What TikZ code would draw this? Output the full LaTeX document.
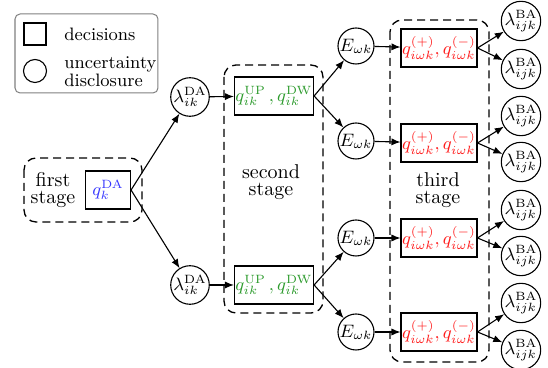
\documentclass[tikz,border=0pt]{standalone}
\usetikzlibrary{arrows.meta}
\definecolor{qblue}{RGB}{55,55,255}
\definecolor{qgreen}{RGB}{45,155,45}
\definecolor{qred}{RGB}{255,25,25}
\begin{document}
\begin{tikzpicture}[x=0.5pt,y=-0.5pt,
  every node/.style={inner sep=0pt},
  dec/.style={draw,line width=0.55pt,rectangle,minimum height=19pt,inner sep=0.5pt,font=\small},
  unc/.style={draw,line width=0.55pt,circle,minimum size=18pt,inner sep=0pt,font=\small},
  uncb/.style={draw,line width=0.55pt,circle,minimum size=19.5pt,inner sep=0pt,font=\small},
  stagebox/.style={draw,line width=0.65pt,dash pattern=on 4pt off 2.5pt,rounded corners=6pt},
  stagetxt/.style={align=center,font=\fontsize{10}{8.6}\selectfont},
  arr/.style={-{Latex[length=4.5pt,width=3.6pt]},line width=0.55pt}]
\useasboundingbox (0,0) rectangle (548,368);
% legend
\draw[gray,line width=0.5pt,rounded corners=2.5pt] (15,14) rectangle (158,93);
\node[draw,line width=0.55pt,minimum size=11pt] (legsq) at (35,34) {};
\node[draw,line width=0.55pt,circle,minimum size=11.5pt] (legci) at (35,71) {};
\node[anchor=west,font=\small] (legdec) at (64,34) {decisions};
\node[anchor=west,align=left,font=\fontsize{9}{7.2}\selectfont] (legunc) at (64,72) {uncertainty\\disclosure};
% stage boxes
\draw[stagebox] (24,158) rectangle (142,222);
\draw[stagebox] (224,65) rectangle (323,313);
\draw[stagebox] (390,20) rectangle (489,362);
\node[stagetxt] (t1) at (53,190) {first\\stage};
\node[stagetxt] (t2) at (271,182) {second\\stage};
\node[stagetxt] (t3) at (438,190) {third\\stage};
% first stage
\node[dec,minimum width=22.5pt,text=qblue] (qda) at (108,190) {$q^{\mathrm{DA}}_{k}$};
% day-ahead prices
\node[unc] (l1) at (190,97) {$\lambda^{\mathrm{DA}}_{ik}$};
\node[unc] (l2) at (190,285) {$\lambda^{\mathrm{DA}}_{ik}$};
% second stage
\node[dec,minimum width=39pt,text=qgreen] (s1) at (274,96) {$q^{\mathrm{UP}}_{ik}\,,q^{\mathrm{DW}}_{ik}$};
\node[dec,minimum width=39pt,text=qgreen] (s2) at (274,285) {$q^{\mathrm{UP}}_{ik}\,,q^{\mathrm{DW}}_{ik}$};
% scenarios
\node[unc] (e1) at (356,46) {$E_{\omega k}$};
\node[unc] (e2) at (356,141) {$E_{\omega k}$};
\node[unc] (e3) at (356,238) {$E_{\omega k}$};
\node[unc] (e4) at (356,332) {$E_{\omega k}$};
% third stage
\node[dec,minimum width=36.5pt,text=qred] (r1) at (439,48) {$q^{(+)}_{i\omega k},q^{(-)}_{i\omega k}$};
\node[dec,minimum width=36.5pt,text=qred] (r2) at (439,143) {$q^{(+)}_{i\omega k},q^{(-)}_{i\omega k}$};
\node[dec,minimum width=36.5pt,text=qred] (r3) at (439,238) {$q^{(+)}_{i\omega k},q^{(-)}_{i\omega k}$};
\node[dec,minimum width=36.5pt,text=qred] (r4) at (439,332) {$q^{(+)}_{i\omega k},q^{(-)}_{i\omega k}$};
% balancing prices
\node[uncb] (b1) at (521,21) {$\lambda^{\mathrm{BA}}_{ijk}$};
\node[uncb] (b2) at (521,69) {$\lambda^{\mathrm{BA}}_{ijk}$};
\node[uncb] (b3) at (521,116) {$\lambda^{\mathrm{BA}}_{ijk}$};
\node[uncb] (b4) at (521,162) {$\lambda^{\mathrm{BA}}_{ijk}$};
\node[uncb] (b5) at (521,210) {$\lambda^{\mathrm{BA}}_{ijk}$};
\node[uncb] (b6) at (521,256) {$\lambda^{\mathrm{BA}}_{ijk}$};
\node[uncb] (b7) at (521,303) {$\lambda^{\mathrm{BA}}_{ijk}$};
\node[uncb] (b8) at (521,350) {$\lambda^{\mathrm{BA}}_{ijk}$};
% connectors
\draw[arr] (qda.east) -- (l1);
\draw[arr] (qda.east) -- (l2);
\draw[arr] (l1) -- (s1);
\draw[arr] (l2) -- (s2);
\draw[arr] (s1.east) -- (e1);
\draw[arr] (s1.east) -- (e2);
\draw[arr] (s2.east) -- (e3);
\draw[arr] (s2.east) -- (e4);
\draw[arr] (e1) -- (r1);
\draw[arr] (e2) -- (r2);
\draw[arr] (e3) -- (r3);
\draw[arr] (e4) -- (r4);
\draw[arr] (r1.east) -- (b1);
\draw[arr] (r1.east) -- (b2);
\draw[arr] (r2.east) -- (b3);
\draw[arr] (r2.east) -- (b4);
\draw[arr] (r3.east) -- (b5);
\draw[arr] (r3.east) -- (b6);
\draw[arr] (r4.east) -- (b7);
\draw[arr] (r4.east) -- (b8);
\end{tikzpicture}
\end{document}
